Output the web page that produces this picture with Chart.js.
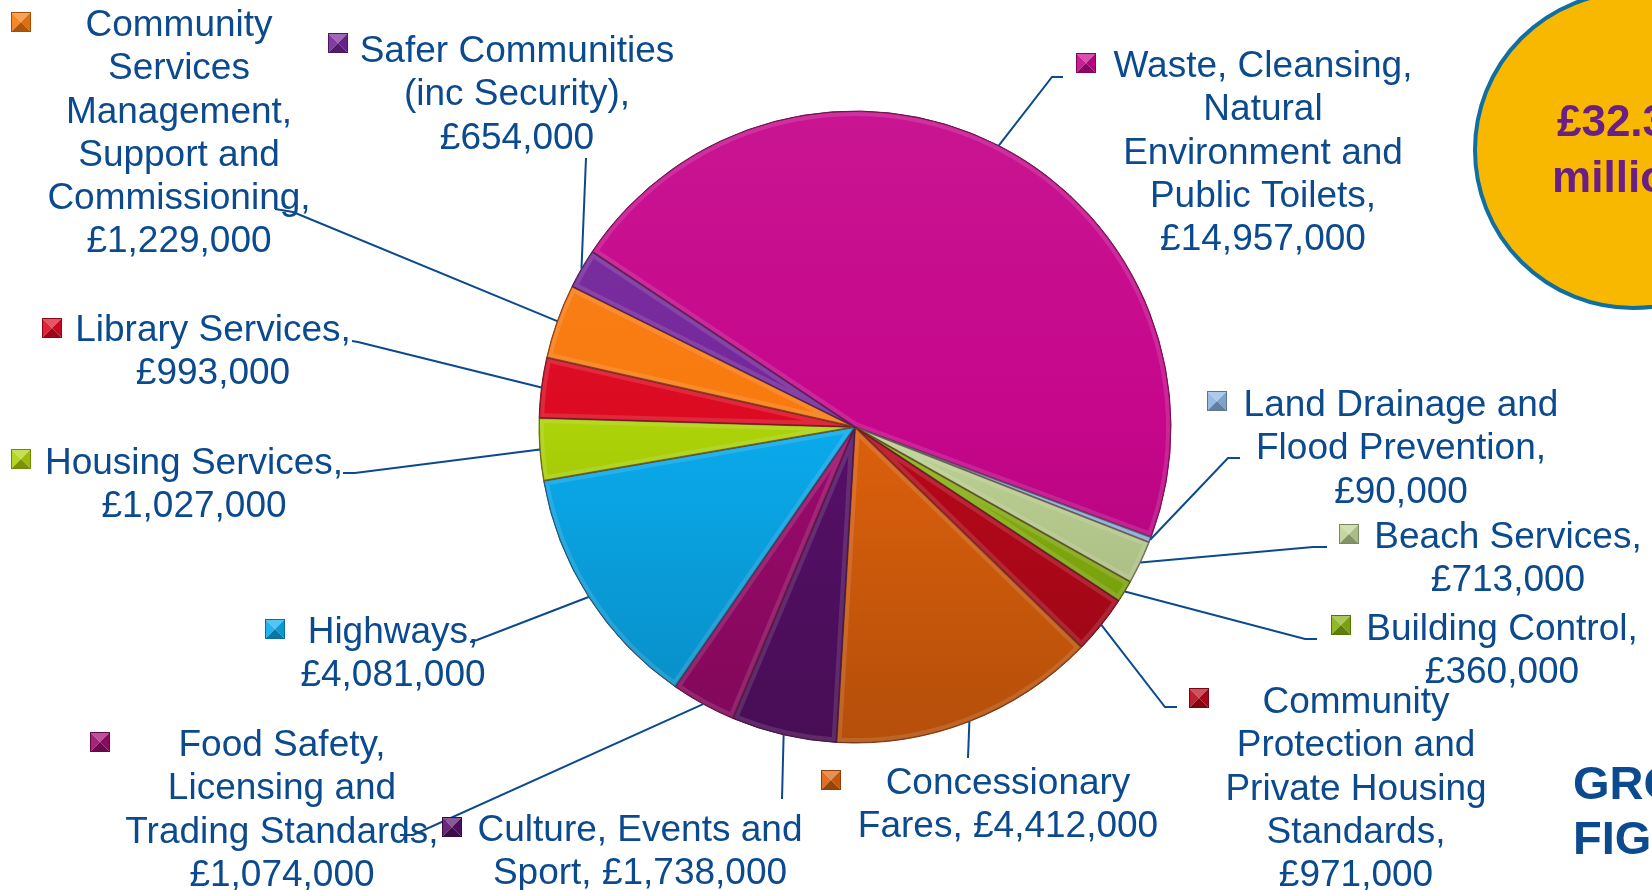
<!DOCTYPE html>
<html lang="en">
<head>
<meta charset="UTF-8">
<title>Gross figures</title>
<script src="https://cdn.jsdelivr.net/npm/chart.js"></script>
<style>
  body, html { margin: 0; background: #fff; }
  .wrap { position: relative; width: 1652px; height: 890px; overflow: hidden; }
</style>
</head>
<body>
<div class="wrap"><canvas id="pie"></canvas></div>
<script>
// slices, clockwise from the big Waste slice
const categories = [
  'Waste, Cleansing, Natural Environment and Public Toilets',
  'Land Drainage and Flood Prevention',
  'Beach Services',
  'Building Control',
  'Community Protection and Private Housing Standards',
  'Concessionary Fares',
  'Culture, Events and Sport',
  'Food Safety, Licensing and Trading Standards',
  'Highways',
  'Housing Services',
  'Library Services',
  'Community Services Management, Support and Commissioning',
  'Safer Communities (inc Security)'
];
const values = [14957000, 90000, 713000, 360000, 971000, 4412000, 1738000, 1074000, 4081000, 1027000, 993000, 1229000, 654000];
const colors = ['#c6068b', '#8db4e2', '#bdd293', '#86b20e', '#b8081a', '#dc600c', '#561068', '#9c0a6c', '#0aaaec', '#acd208', '#dc0a22', '#f87a0e', '#74269a'];

// label wording: '|' starts a new line, %v is the value
const labelText = [
  'Waste, Cleansing,|Natural|Environment and|Public Toilets,|%v',
  'Land Drainage and|Flood Prevention,|%v',
  'Beach Services,|%v',
  'Building Control,|%v',
  'Community|Protection and|Private Housing|Standards,|%v',
  'Concessionary|Fares, %v',
  'Culture, Events and|Sport, %v',
  'Food Safety,|Licensing and|Trading Standards,|%v',
  'Highways,|%v',
  'Housing Services,|%v',
  'Library Services,|%v',
  'Community|Services|Management,|Support and|Commissioning,|%v',
  'Safer Communities|(inc Security),|%v'
];

// layout: text centre x + first line y, marker centre, leader elbow + end
const labelAt = [[1263, 67], [1401, 406], [1508, 538], [1502, 630], [1356, 703], [1008, 784], [640, 831], [282, 746], [393, 633], [194, 464], [213, 331], [179, 26], [517, 52]];
const markAt = [[1086, 63], [1217, 401], [1349, 534], [1341, 625], [1199, 698], [831, 780], [452, 827], [100, 742], [275, 629], [21, 459], [52, 328], [21, 22], [338, 43]];
const leadTo = [[1052, 77, 1063, 77], [1228, 458, 1240, 458], [1313, 547, 1327, 547], [1305, 639, 1317, 639], [1165, 707, 1177, 707],
  [968, 758, 968, 758], [782, 799, 782, 799], [413, 835, 400, 835], [477, 640, 470, 642], [355, 473, 343, 473], [358, 342, 352, 341], [293, 212, 275, 209], [586, 158, 586, 158]];

const TEXT = '#0b4a8e';
const FONT = '"Liberation Sans", Arial, sans-serif';

function shade(hex, f) {
  const n = parseInt(hex.slice(1), 16);
  const t = f < 0 ? 0 : 255, p = Math.abs(f);
  const ch = [n >> 16, (n >> 8) & 255, n & 255].map(c => Math.round((t - c) * p + c));
  return `rgb(${ch[0]},${ch[1]},${ch[2]})`;
}

function fmt(v) {
  return '£' + v.toLocaleString('en-GB');
}

// soft bevel on each slice
const bevelPlugin = {
  id: 'bevel',
  afterDatasetsDraw(chart) {
    const ctx = chart.ctx;
    chart.getDatasetMeta(0).data.forEach(arc => {
      const {x, y, startAngle, endAngle, outerRadius} = arc;
      ctx.save();
      ctx.beginPath();
      ctx.moveTo(x, y);
      ctx.arc(x, y, outerRadius, startAngle, endAngle);
      ctx.closePath();
      ctx.clip();
      ctx.lineWidth = 10;
      ctx.strokeStyle = 'rgba(255,255,255,0.12)';
      ctx.stroke();
      ctx.lineWidth = 2;
      ctx.strokeStyle = 'rgba(60,0,20,0.4)';
      ctx.stroke();
      ctx.restore();
    });
  }
};

function drawMarker(ctx, cx, cy, col) {
  const h = 10;
  const l = cx - h, r = cx + h, t = cy - h, b = cy + h;
  const tri = (pts, c) => {
    ctx.beginPath();
    ctx.moveTo(pts[0], pts[1]); ctx.lineTo(pts[2], pts[3]); ctx.lineTo(cx, cy);
    ctx.closePath();
    ctx.fillStyle = c;
    ctx.fill();
  };
  tri([l, t, r, t], shade(col, 0.3));
  tri([l, t, l, b], shade(col, 0.1));
  tri([r, t, r, b], shade(col, -0.1));
  tri([l, b, r, b], shade(col, -0.3));
  ctx.strokeStyle = shade(col, -0.35);
  ctx.lineWidth = 1;
  ctx.strokeRect(l + 0.5, t + 0.5, 2 * h - 1, 2 * h - 1);
}

const labelsPlugin = {
  id: 'sliceLabels',
  afterDraw(chart) {
    const ctx = chart.ctx;
    const arcs = chart.getDatasetMeta(0).data;
    ctx.save();

    // yellow total badge, top right
    ctx.beginPath();
    ctx.arc(1633, 150, 158, 0, Math.PI * 2);
    ctx.fillStyle = '#f9b800';
    ctx.fill();
    ctx.lineWidth = 4;
    ctx.strokeStyle = '#0f6fa3';
    ctx.stroke();
    ctx.fillStyle = '#6a1f84';
    ctx.font = 'bold 44px ' + FONT;
    ctx.textAlign = 'center';
    ctx.textBaseline = 'middle';
    const total = values.reduce((a, b) => a + b, 0);
    ctx.fillText('£' + (total / 1e6).toFixed(1), 1612, 124);
    ctx.fillText('million', 1623, 180);

    ctx.fillStyle = TEXT;
    ctx.font = 'bold 47px ' + FONT;
    ctx.textAlign = 'left';
    ctx.fillText('GROSS', 1573, 786);
    ctx.fillText('FIGURES', 1573, 841);

    // leader lines
    ctx.strokeStyle = TEXT;
    ctx.lineWidth = 2;
    arcs.forEach((arc, i) => {
      const mid = (arc.startAngle + arc.endAngle) / 2;
      const sx = arc.x + Math.cos(mid) * arc.outerRadius;
      const sy = arc.y + Math.sin(mid) * arc.outerRadius;
      const l = leadTo[i];
      ctx.beginPath();
      ctx.moveTo(sx, sy);
      ctx.lineTo(l[0], l[1]);
      ctx.lineTo(l[2], l[3]);
      ctx.stroke();
    });

    // markers and text
    ctx.font = '37px ' + FONT;
    ctx.textAlign = 'center';
    ctx.textBaseline = 'middle';
    arcs.forEach((arc, i) => {
      drawMarker(ctx, markAt[i][0], markAt[i][1], colors[i]);
      const lines = labelText[i].replace('%v', fmt(values[i])).split('|');
      ctx.fillStyle = TEXT;
      lines.forEach((s, k) => ctx.fillText(s, labelAt[i][0], labelAt[i][1] + k * 43.2));
    });
    ctx.restore();
  }
};

new Chart(document.getElementById('pie'), {
  type: 'pie',
  data: {
    labels: categories,
    datasets: [{
      data: values,
      backgroundColor: c => {
        const col = colors[c.dataIndex];
        const area = c.chart.chartArea;
        if (!area) return col;
        const g = c.chart.ctx.createLinearGradient(0, area.top, 0, area.bottom);
        g.addColorStop(0, shade(col, 0.06));
        g.addColorStop(0.5, col);
        g.addColorStop(1, shade(col, -0.18));
        return g;
      },
      borderColor: colors.map(c => shade(c, -0.4)),
      borderWidth: 1,
      hoverOffset: 0
    }]
  },
  options: {
    responsive: true,
    maintainAspectRatio: false,
    animation: false,
    rotation: -56.3,
    radius: 316,
    layout: { padding: { left: 539, right: 481, top: 111, bottom: 147 } },
    plugins: {
      legend: { display: false },
      tooltip: { enabled: false }
    }
  },
  plugins: [bevelPlugin, labelsPlugin]
});
</script>
</body>
</html>
